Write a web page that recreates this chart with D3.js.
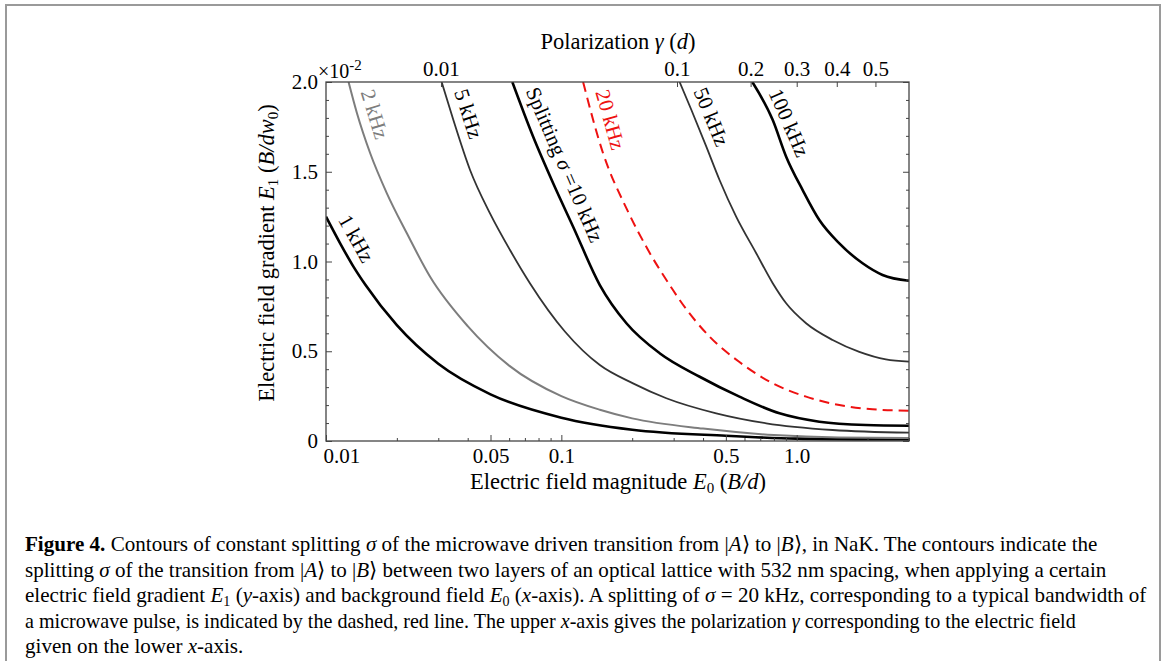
<!DOCTYPE html>
<html>
<head>
<meta charset="utf-8">
<script src="https://cdn.jsdelivr.net/npm/d3@7"></script>
<style>
  html, body { margin: 0; padding: 0; background: #fff; }
  svg { display: block; font-family: "Liberation Serif", "Times New Roman", serif; }
</style>
</head>
<body>
<svg id="fig" width="1165" height="661"></svg>
<script>
// ---- Axis ticks ----------------------------------------------------------
const e0MajorTicks = [0.01, 0.05, 0.1, 0.5, 1.0];
const e0MajorLabels = ["0.01", "0.05", "0.1", "0.5", "1.0"];
const e0MinorTicks = [0.02, 0.03, 0.04, 0.06, 0.07, 0.08, 0.09,
                      0.2, 0.3, 0.4, 0.6, 0.7, 0.8, 0.9, 2, 3];
const gammaLabels = ["0.01", "0.1", "0.2", "0.3", "0.4", "0.5"];
const gammaAtE0   = [0.0308, 0.310, 0.637, 1.0, 1.48, 2.16];   // E0 where each polarization is reached
const e1MajorTicks = [0, 0.5, 1.0, 1.5, 2.0];
const e1MajorLabels = ["0", "0.5", "1.0", "1.5", "2.0"];
const e1MinorTicks = [0.1, 0.2, 0.3, 0.4, 0.6, 0.7, 0.8, 0.9,
                      1.1, 1.2, 1.3, 1.4, 1.6, 1.7, 1.8, 1.9];

// ---- Contours of constant splitting: E0 (B/d) vs E1 (10^-2 B/dw0) ---------
const levels = ["1 kHz", "2 kHz", "5 kHz", "10 kHz", "20 kHz", "50 kHz", "100 kHz"];

const e0_1kHz = [0.01, 0.0115, 0.0131, 0.0147, 0.02, 0.03, 0.05, 0.1, 0.2, 0.5, 1.0, 2.0, 3.0];
const e1_1kHz = [1.25, 1.10, 0.97, 0.87, 0.645, 0.43, 0.26, 0.13, 0.063, 0.029, 0.013, 0.009, 0.0085];

const e0_2kHz = [0.01247, 0.01354, 0.01541, 0.01814, 0.02206, 0.02769, 0.04, 0.06, 0.1, 0.1457, 0.2, 0.4, 0.8, 1.5, 3.0];
const e1_2kHz = [2.0, 1.826, 1.603, 1.38, 1.157, 0.915, 0.64, 0.42, 0.25, 0.174, 0.126, 0.069, 0.033, 0.0195, 0.017];

const e0_5kHz = [0.0310, 0.03477, 0.04093, 0.04975, 0.0605, 0.07352, 0.1035, 0.1457, 0.2016, 0.2793, 0.455, 0.742, 1.421, 3.0];
const e1_5kHz = [2.0, 1.788, 1.51, 1.268, 1.064, 0.879, 0.61, 0.423, 0.321, 0.238, 0.154, 0.0986, 0.0613, 0.0462];

const e0_10kHz = [0.0619, 0.0759, 0.0923, 0.1122, 0.1457, 0.189, 0.2616, 0.387, 0.571, 0.845, 1.248, 1.968, 3.0];
const e1_10kHz = [2.0, 1.695, 1.436, 1.194, 0.869, 0.656, 0.489, 0.358, 0.247, 0.154, 0.1075, 0.089, 0.085];

const e0_20kHz = [0.1237, 0.1504, 0.19, 0.2336, 0.298, 0.318, 0.4266, 0.571, 0.791, 1.096, 1.517, 2.10, 3.0];
const e1_20kHz = [2.0, 1.603, 1.29, 1.064, 0.841, 0.786, 0.581, 0.44, 0.321, 0.247, 0.2006, 0.1766, 0.169];

const e0_50kHz = [0.318, 0.357, 0.413, 0.470, 0.553, 0.673, 0.791, 0.902, 1.096, 1.421, 1.845, 2.393, 3.0];
const e1_50kHz = [2.0, 1.844, 1.640, 1.454, 1.250, 1.046, 0.879, 0.767, 0.656, 0.563, 0.497, 0.455, 0.442];

const e0_100kHz = [0.648, 0.791, 0.902, 1.06, 1.248, 1.517, 1.905, 2.316, 3.0];
const e1_100kHz = [2.0, 1.788, 1.584, 1.398, 1.231, 1.101, 0.99, 0.925, 0.893];

// ---- Layout --------------------------------------------------------------
const svg = d3.select("#fig");
const plot = { left: 326, right: 909, top: 82, bottom: 441 };
const x = d3.scaleLog().domain([0.01, 3]).range([plot.left, plot.right]);
const y = d3.scaleLinear().domain([0, 2]).range([plot.bottom, plot.top]);

// outer figure frame
svg.append("rect").attr("x", 6).attr("y", 5).attr("width", 1154).attr("height", 700)
  .attr("fill", "none").attr("stroke", "#9a9a9a").attr("stroke-width", 2);

const contours = [
  { name: levels[0], e0: e0_1kHz,   e1: e1_1kHz,   color: "#000",    width: 2.6 },
  { name: levels[1], e0: e0_2kHz,   e1: e1_2kHz,   color: "#7d7d7d", width: 2.0 },
  { name: levels[2], e0: e0_5kHz,   e1: e1_5kHz,   color: "#333",    width: 1.8 },
  { name: levels[3], e0: e0_10kHz,  e1: e1_10kHz,  color: "#000",    width: 2.6 },
  { name: levels[4], e0: e0_20kHz,  e1: e1_20kHz,  color: "#ee1111", width: 2.0, dash: "10,6" },
  { name: levels[5], e0: e0_50kHz,  e1: e1_50kHz,  color: "#333",    width: 1.8 },
  { name: levels[6], e0: e0_100kHz, e1: e1_100kHz, color: "#000",    width: 2.6 }
];

svg.append("clipPath").attr("id", "plotClip").append("rect")
  .attr("x", plot.left).attr("y", plot.top)
  .attr("width", plot.right - plot.left).attr("height", plot.bottom - plot.top);

const line = d3.line()
  .x(d => x(d[0])).y(d => y(d[1]))
  .curve(d3.curveMonotoneX);

const gLines = svg.append("g").attr("clip-path", "url(#plotClip)");
contours.forEach(c => {
  gLines.append("path")
    .datum(c.e0.map((v, i) => [v, c.e1[i]]))
    .attr("d", line)
    .attr("fill", "none")
    .attr("stroke", c.color)
    .attr("stroke-width", c.width)
    .attr("stroke-dasharray", c.dash || null)
    .attr("stroke-linejoin", "round");
});

// value of a contour at a given E0 (linear in log E0 between points)
function e1At(c, e) {
  const le = Math.log10(e);
  for (let i = 0; i < c.e0.length - 1; i++) {
    const a = Math.log10(c.e0[i]), b = Math.log10(c.e0[i + 1]);
    if (le >= a && le <= b) {
      const t = (le - a) / (b - a);
      return c.e1[i] + t * (c.e1[i + 1] - c.e1[i]);
    }
  }
  return c.e1[c.e1.length - 1];
}
// E0 at which a contour crosses a given E1
function e0At(c, v) {
  for (let i = 0; i < c.e1.length - 1; i++) {
    if ((c.e1[i] - v) * (c.e1[i + 1] - v) <= 0) {
      const t = (v - c.e1[i]) / (c.e1[i + 1] - c.e1[i]);
      return Math.pow(10, Math.log10(c.e0[i]) + t * (Math.log10(c.e0[i + 1]) - Math.log10(c.e0[i])));
    }
  }
  return c.e0[0];
}

// contour labels, set beside each curve along the chord they span
const labelStart = [
  { idx: 0, e0: 0.0104 },
  { idx: 1, e1: 1.93 },
  { idx: 2, e1: 1.93 },
  { idx: 3, e1: 1.93 },
  { idx: 4, e1: 1.93 },
  { idx: 5, e1: 1.93 },
  { idx: 6, e1: 1.92 }
];
const labelGap = 9;
labelStart.forEach(p => {
  const c = contours[p.idx];
  const eStart = p.e0 !== undefined ? p.e0 : e0At(c, p.e1);
  const x0 = x(eStart), y0 = y(e1At(c, eStart));
  const t = svg.append("text")
    .attr("x", 0).attr("y", -labelGap)
    .attr("font-size", 21)
    .attr("fill", c.color === "#333" ? "#000" : c.color);
  if (p.idx === 3) {
    t.append("tspan").text("Splitting ");
    t.append("tspan").attr("font-style", "italic").text("σ");
    t.append("tspan").text(" =10 kHz");
  } else {
    t.text(c.name);
  }
  const len = t.node().getComputedTextLength();
  // walk along the curve until the text length is covered
  let e = eStart, x1 = x0, y1 = y0;
  while (e < 3) {
    e *= 1.002;
    x1 = x(e); y1 = y(e1At(c, e));
    if (Math.hypot(x1 - x0, y1 - y0) >= len) break;
  }
  const ang = Math.atan2(y1 - y0, x1 - x0) * 180 / Math.PI;
  t.attr("transform", `translate(${x0},${y0}) rotate(${ang})`);
});

// ---- Axes ----------------------------------------------------------------
const axisColor = "#444";
function styleAxis(g) {
  g.select(".domain").remove();
  g.selectAll(".tick line").attr("stroke", axisColor).attr("stroke-width", 1);
  g.selectAll(".tick text").attr("fill", "#000").attr("font-size", 21)
    .attr("font-family", "Liberation Serif, serif");
}

// bottom: E0
svg.append("g").attr("transform", `translate(0,${plot.bottom})`)
  .call(d3.axisBottom(x).tickValues(e0MinorTicks).tickSize(-3).tickFormat(""))
  .call(styleAxis);
const gb = svg.append("g").attr("transform", `translate(0,${plot.bottom})`)
  .call(d3.axisBottom(x).tickValues(e0MajorTicks).tickSize(-6).tickPadding(7)
    .tickFormat((d, i) => e0MajorLabels[i]))
  .call(styleAxis);
gb.selectAll(".tick text").filter(d => d === 0.01).attr("text-anchor", "start").attr("x", -3);

// top: polarization
svg.append("g").attr("transform", `translate(0,${plot.top})`)
  .call(d3.axisTop(x).tickValues(gammaAtE0).tickSize(-5).tickPadding(6)
    .tickFormat((d, i) => gammaLabels[i]))
  .call(styleAxis);

// left: E1
svg.append("g").attr("transform", `translate(${plot.left},0)`)
  .call(d3.axisLeft(y).tickValues(e1MinorTicks).tickSize(-3).tickFormat(""))
  .call(styleAxis);
svg.append("g").attr("transform", `translate(${plot.left},0)`)
  .call(d3.axisLeft(y).tickValues(e1MajorTicks).tickSize(-6).tickPadding(8)
    .tickFormat((d, i) => e1MajorLabels[i]))
  .call(styleAxis);

// right: ticks only
svg.append("g").attr("transform", `translate(${plot.right},0)`)
  .call(d3.axisRight(y).tickValues(e1MinorTicks).tickSize(-3).tickFormat(""))
  .call(styleAxis);
svg.append("g").attr("transform", `translate(${plot.right},0)`)
  .call(d3.axisRight(y).tickValues(e1MajorTicks).tickSize(-6).tickFormat(""))
  .call(styleAxis);

// plot frame
svg.append("rect").attr("x", plot.left).attr("y", plot.top)
  .attr("width", plot.right - plot.left).attr("height", plot.bottom - plot.top)
  .attr("fill", "none").attr("stroke", axisColor).attr("stroke-width", 1.3);

// exponent multiplier of the E1 axis
const mult = svg.append("text").attr("x", 318).attr("y", 78).attr("font-size", 20);
mult.append("tspan").text("×10");
mult.append("tspan").attr("dy", -8).attr("font-size", 15).text("-2");

// axis titles
const titleSize = 22.5;
const tTop = svg.append("text").attr("x", 618).attr("y", 49).attr("text-anchor", "middle").attr("font-size", titleSize);
tTop.append("tspan").text("Polarization ");
tTop.append("tspan").attr("font-style", "italic").text("γ");
tTop.append("tspan").text(" (");
tTop.append("tspan").attr("font-style", "italic").text("d");
tTop.append("tspan").text(")");

const tBot = svg.append("text").attr("x", 618).attr("y", 489).attr("text-anchor", "middle").attr("font-size", titleSize);
tBot.append("tspan").text("Electric field magnitude ");
tBot.append("tspan").attr("font-style", "italic").text("E");
tBot.append("tspan").attr("font-size", 15).attr("dy", 4).text("0");
tBot.append("tspan").attr("dy", -4).text(" (");
tBot.append("tspan").attr("font-style", "italic").text("B/d");
tBot.append("tspan").text(")");

const tLeft = svg.append("text").attr("transform", "translate(274,253) rotate(-90)")
  .attr("text-anchor", "middle").attr("font-size", titleSize);
tLeft.append("tspan").text("Electric field gradient ");
tLeft.append("tspan").attr("font-style", "italic").text("E");
tLeft.append("tspan").attr("font-size", 15).attr("dy", 4).text("1");
tLeft.append("tspan").attr("dy", -4).text(" (");
tLeft.append("tspan").attr("font-style", "italic").text("B/dw");
tLeft.append("tspan").attr("font-size", 15).attr("dy", 4).text("0");
tLeft.append("tspan").attr("dy", -4).text(")");

// ---- Caption -------------------------------------------------------------
const captionLines = [
  { y: 551, w: 1073, parts: [["Figure 4.", "b"], [" Contours of constant splitting "], ["σ", "i"], [" of the microwave driven transition from |"], ["A", "i"], ["⟩ to |"], ["B", "i"], ["⟩, in NaK. The contours indicate the"]] },
  { y: 577, parts: [["splitting "], ["σ", "i"], [" of the transition from |"], ["A", "i"], ["⟩ to |"], ["B", "i"], ["⟩ between two layers of an optical lattice with 532 nm spacing, when applying a certain"]] },
  { y: 602, parts: [["electric field gradient "], ["E", "i"], ["1", "s"], [" ("], ["y", "i"], ["-axis) and background field "], ["E", "i"], ["0", "s"], [" ("], ["x", "i"], ["-axis). A splitting of "], ["σ", "i"], [" = 20 kHz, corresponding to a typical bandwidth of"]] },
  { y: 628, w: 1051, parts: [["a microwave pulse, is indicated by the dashed, red line. The upper "], ["x", "i"], ["-axis gives the polarization "], ["γ", "i"], [" corresponding to the electric field"]] },
  { y: 653, parts: [["given on the lower "], ["x", "i"], ["-axis."]] }
];
const capTexts = captionLines.map(l => {
  const t = svg.append("text").attr("x", 0).attr("y", 0).attr("font-size", 21);
  l.parts.forEach((p, k) => {
    const s = t.append("tspan").text(p[0]);
    if (p[1] === "b") s.attr("font-weight", "bold");
    if (p[1] === "i") s.attr("font-style", "italic");
    if (p[1] === "s") s.attr("font-size", 14).attr("dy", 4);
    else if (k > 0 && l.parts[k - 1][1] === "s") s.attr("dy", -4);
  });
  return t;
});
// one horizontal condensation for the caption, set by its first line;
// a line with its own set width gets its own condensation
const sx = captionLines[0].w / capTexts[0].node().getComputedTextLength();
capTexts.forEach((t, i) => {
  const l = captionLines[i];
  const s = l.w ? l.w / t.node().getComputedTextLength() : sx;
  t.attr("transform", `translate(25,${l.y}) scale(${s},1)`);
});
</script>
</body>
</html>
